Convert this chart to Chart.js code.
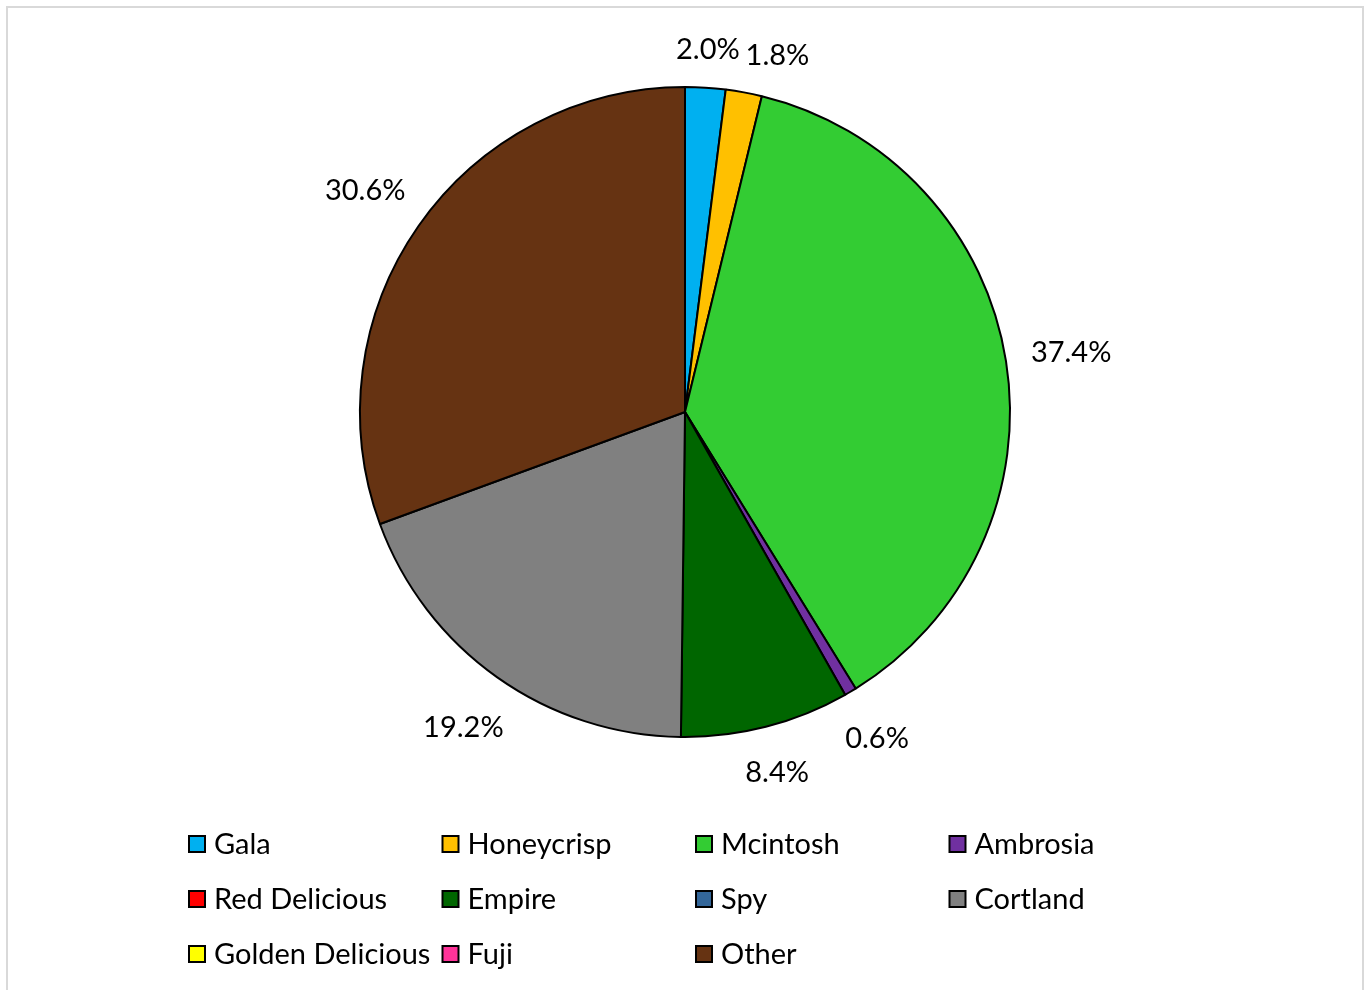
<!DOCTYPE html>
<html lang="en">
<head>
  <meta charset="UTF-8">
  <title>Apple Varieties</title>
  <script src="https://cdn.jsdelivr.net/npm/chart.js"></script>
  <style>
    html, body { margin: 0; padding: 0; background: #fff; overflow: hidden; }
    #frame {
      position: absolute;
      left: 6px; top: 6px;
      width: 1354px; height: 1000px;
      border: 2px solid #d9d9d9;
      border-bottom: none;
    }
    #wrap { position: absolute; left: 0; top: 0; width: 1364px; height: 990px; }
  </style>
</head>
<body>
  <div id="frame"></div>
  <div id="wrap"><canvas id="pie"></canvas></div>

  <script>
    const varieties = ['Gala', 'Honeycrisp', 'Mcintosh', 'Ambrosia', 'Red Delicious', 'Empire',
                       'Spy', 'Cortland', 'Golden Delicious', 'Fuji', 'Other'];
    const shares = [2.0, 1.8, 37.4, 0.6, 0, 8.4, 0, 19.2, 0, 0, 30.6];
    const sliceColors = ['#00B0F0', '#FFC000', '#33CC33', '#7030A0', '#FF0000', '#006600',
                         '#336699', '#808080', '#FFFF00', '#FF3399', '#663312'];

    const FONT = '29px Lato, "Open Sans", sans-serif';

    // percentage labels outside each non-empty slice, nudged apart when they collide
    const outsideLabels = {
      id: 'outsideLabels',
      afterDatasetsDraw(chart) {
        const ctx = chart.ctx;
        const arcs = chart.getDatasetMeta(0).data;
        ctx.save();
        ctx.font = FONT;
        ctx.fillStyle = '#000';
        ctx.textAlign = 'center';
        ctx.textBaseline = 'middle';
        const placed = [];
        arcs.forEach((arc, i) => {
          if (!shares[i]) return;
          const text = shares[i].toFixed(1) + '%';
          const w = ctx.measureText(text).width;
          const h = 28;
          let ang = (arc.startAngle + arc.endAngle) / 2;
          let box;
          for (let k = 0; k < 60; k++) {
            const dx = Math.cos(ang), dy = Math.sin(ang);
            const ext = Math.abs(dx) * w / 2 + Math.abs(dy) * h / 2;
            const d = arc.outerRadius + 24 + ext;
            const cx = arc.x + dx * d, cy = arc.y + dy * d;
            box = { x0: cx - w / 2, x1: cx + w / 2, y0: cy - h / 2, y1: cy + h / 2, cx, cy };
            const hit = placed.some(b => box.x0 < b.x1 + 4 && box.x1 > b.x0 - 4 && box.y0 < b.y1 && box.y1 > b.y0);
            if (!hit) break;
            ang += 0.01;
          }
          placed.push(box);
          ctx.fillText(text, box.cx, box.cy + 2);
        });
        ctx.restore();
      }
    };

    // four-column legend under the pie
    const gridLegend = {
      id: 'gridLegend',
      afterDraw(chart) {
        const ctx = chart.ctx;
        ctx.save();
        ctx.font = FONT;
        ctx.textBaseline = 'middle';
        ctx.textAlign = 'left';
        varieties.forEach((name, i) => {
          const col = i % 4, row = Math.floor(i / 4);
          const x = 189 + col * 253.5;
          const y = 844 + row * 55;
          ctx.fillStyle = sliceColors[i];
          ctx.fillRect(x, y - 8, 16, 16);
          ctx.lineWidth = 2;
          ctx.strokeStyle = '#000';
          ctx.strokeRect(x, y - 8, 16, 16);
          ctx.fillStyle = '#000';
          ctx.fillText(name, x + 25, y + 1);
        });
        ctx.restore();
      }
    };

    new Chart(document.getElementById('pie'), {
      type: 'pie',
      data: {
        labels: varieties,
        datasets: [{
          data: shares,
          backgroundColor: sliceColors,
          borderColor: '#000',
          borderWidth: 2,
          borderAlign: 'center'
        }]
      },
      options: {
        responsive: true,
        maintainAspectRatio: false,
        animation: false,
        layout: { padding: { left: 359, right: 353, top: 86, bottom: 252 } },
        plugins: {
          legend: { display: false },
          tooltip: { enabled: false }
        }
      },
      plugins: [outsideLabels, gridLegend]
    });
  </script>
</body>
</html>
